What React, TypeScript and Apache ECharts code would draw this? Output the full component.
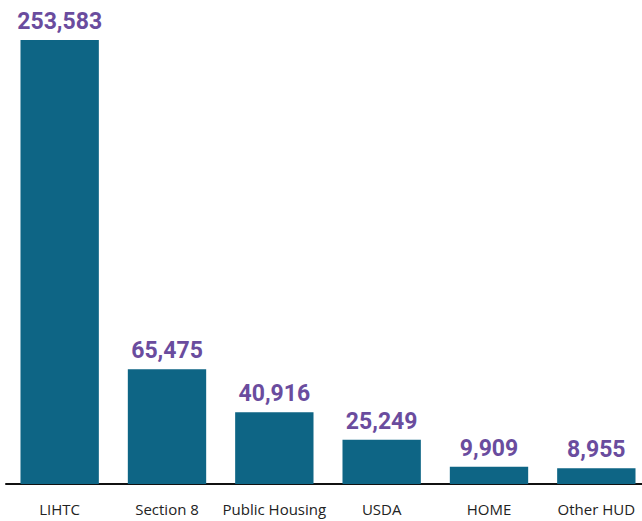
import React, { useEffect, useRef } from "react";
import * as echarts from "echarts";

const categories = ["LIHTC", "Section 8", "Public Housing", "USDA", "HOME", "Other HUD"];
const values = [253583, 65475, 40916, 25249, 9909, 8955];

export default function App() {
  const ref = useRef<HTMLDivElement>(null);
  useEffect(() => {
    document.body.style.margin = "0";
    document.body.style.overflow = "hidden";
    const chart = echarts.init(ref.current!, null, { renderer: "svg" });
    chart.setOption({
      animation: false,
      grid: { left: 6, right: 0, top: 40, bottom: 37, containLabel: false },
      xAxis: {
        type: "category",
        data: categories,
        axisLine: { show: true, lineStyle: { color: "#111", width: 2 } },
        axisTick: { show: false },
        axisLabel: {
          color: "#222",
          fontFamily: "Open Sans",
          fontSize: 15,
          margin: 17,
          interval: 0,
        },
      },
      yAxis: {
        type: "value",
        min: 0,
        max: 253583,
        show: false,
        splitLine: { show: false },
      },
      series: [
        {
          type: "bar",
          data: values,
          barCategoryGap: "27%",
          itemStyle: { color: "#0e6585" },
          label: {
            show: true,
            position: "top",
            distance: 7,
            color: "#6a4c9e",
            fontFamily: "Roboto",
            fontWeight: "bold",
            fontSize: 23,
            formatter: (p: any) => p.value.toLocaleString("en-US"),
          },
        },
      ],
    });
    return () => chart.dispose();
  }, []);
  return (
    <div style={{ width: 642, height: 521, overflow: "hidden", position: "relative" }}>
      <div ref={ref} style={{ width: 650, height: 521 }} />
    </div>
  );
}
